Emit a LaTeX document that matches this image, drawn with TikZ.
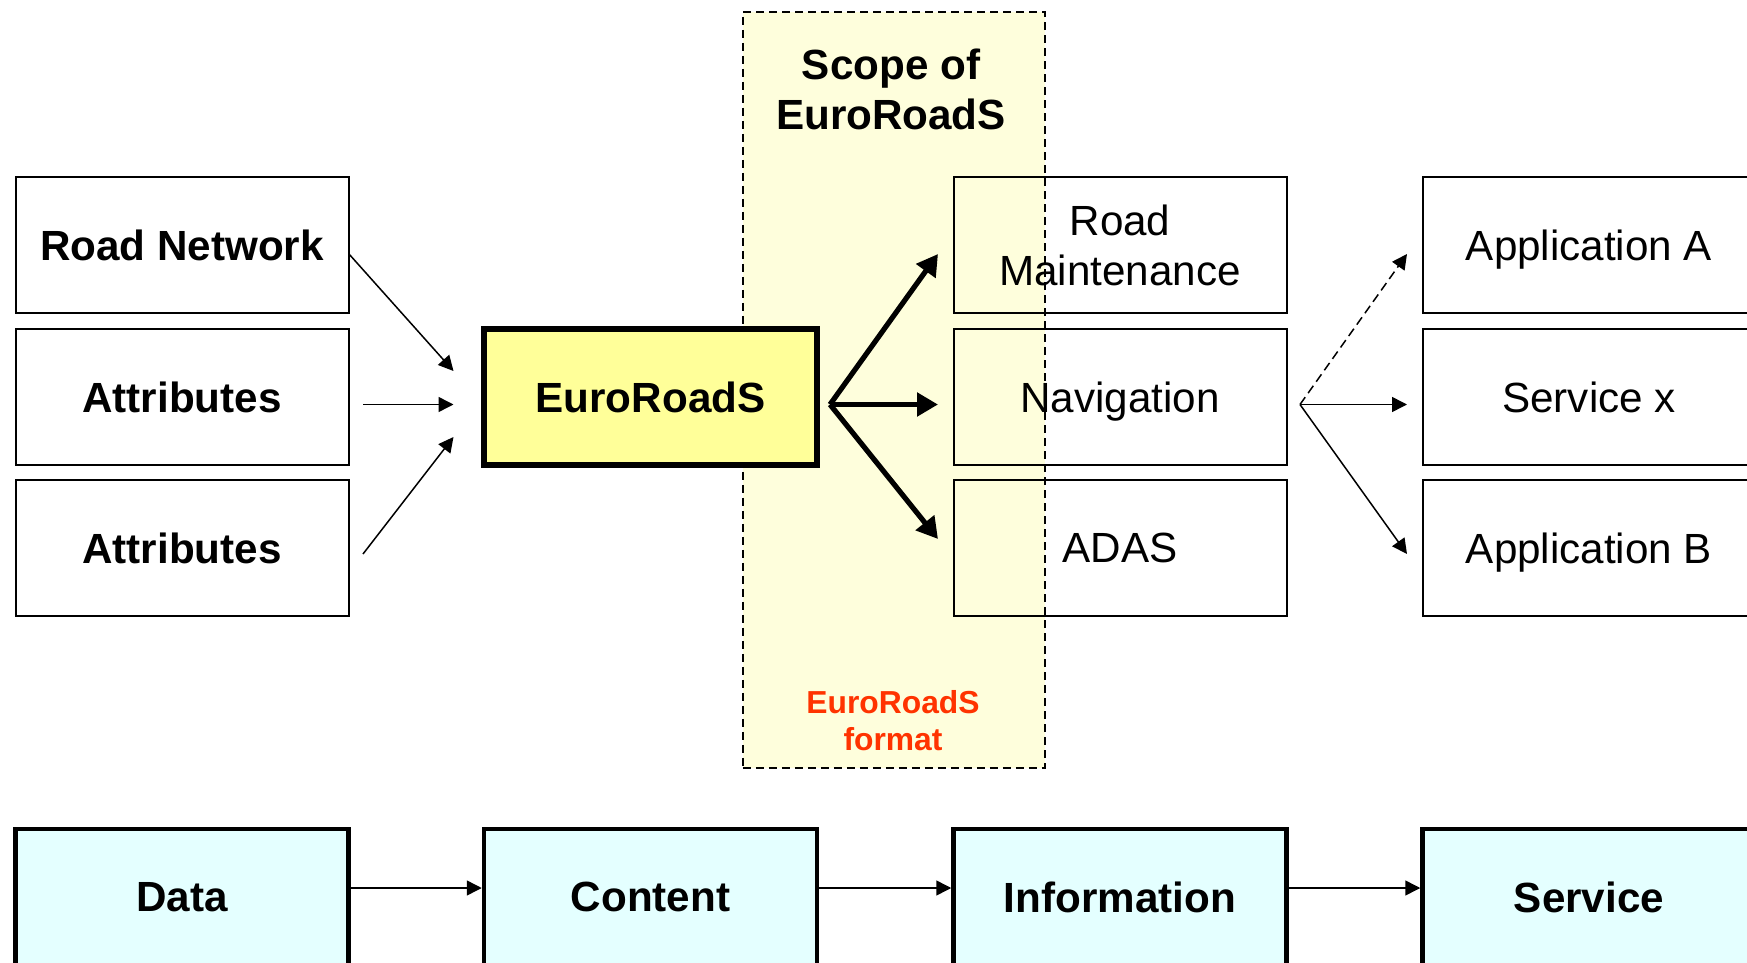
\documentclass[tikz,border=0pt]{standalone}
\usepackage{fontspec}
\setmainfont{Liberation Sans}
\usetikzlibrary{arrows.meta}
\definecolor{scopefill}{HTML}{FEFEDC}
\definecolor{erfill}{HTML}{FFFF99}
\definecolor{cyanfill}{HTML}{E4FFFF}
\definecolor{redtxt}{HTML}{FF3300}
\begin{document}
\begin{tikzpicture}[x=0.5pt,y=-0.5pt,
  box/.style={draw=black,line width=1pt,minimum width=166.5pt,minimum height=68pt,inner sep=0pt,align=center,text depth=0pt,font=\fontsize{21.1}{25}\selectfont},
  boldbox/.style={box,font=\fontsize{21.1}{25}\selectfont\bfseries},
  erbox/.style={boldbox,fill=erfill,line width=3pt},
  stagebox/.style={boldbox,fill=cyanfill,line width=2.25pt},
  thinarrow/.style={line width=0.75pt,-{Triangle[length=7.5pt,width=7.5pt]}},
  thickarrow/.style={line width=2.6pt,-{Triangle[length=10.5pt,width=11.5pt]}},
  scopebox/.style={draw=black,fill=scopefill,line width=0.9pt,dash pattern=on 4pt off 2.5pt}
]
\useasboundingbox (0,0) rectangle (1747,963);
\clip (0,0) rectangle (1747,963);
\fill[white] (0,0) rectangle (1747,963);
% scope
\node[scopebox,minimum width=151pt,minimum height=378pt,inner sep=0pt,anchor=north west] (scope) at (742,11) {};
\node[font=\fontsize{21.1}{25}\selectfont\bfseries,align=center] (scopetxt) at (891,89) {Scope of\\EuroRoadS};
\node[font=\fontsize{15.9}{18.4}\selectfont\bfseries,text=redtxt,align=center] (fmt) at (893,721) {EuroRoadS\\format};
% left column
\node[boldbox,fill=white] (rn) at (182,245) {Road Network};
\node[boldbox,fill=white] (at1) at (182,397) {Attributes};
\node[boldbox,fill=white] (at2) at (182,548) {Attributes};
% EuroRoadS
\node[erbox] (er) at (650.5,397) {EuroRoadS};
% middle column
\node[box] (rm) at (1120,245) {Road\\Maintenance};
\node[box] (nav) at (1120,397) {Navigation};
\node[box] (adas) at (1120,548) {ADAS};
% right column
\node[box,fill=white] (appa) at (1589,245) {Application A};
\node[box,fill=white] (svx) at (1589,397) {Service x};
\node[box,fill=white] (appb) at (1589,548) {Application B};
% bottom row
\node[stagebox] (data) at (182,897) {Data};
\node[stagebox] (content) at (650.5,897) {Content};
\node[stagebox] (info) at (1120,897) {Information};
\node[stagebox] (service) at (1589,897) {Service};
% coordinates
\coordinate (l1s) at (349,254);
\coordinate (l2s) at (363,404.5);
\coordinate (l3s) at (363,554);
\coordinate (l1e) at (453.5,371);
\coordinate (l2e) at (453.5,404.5);
\coordinate (l3e) at (453.5,437);
\coordinate (mo) at (830,404.5);
\coordinate (m1) at (938,254);
\coordinate (m2) at (938,404.5);
\coordinate (m3) at (938,539);
\coordinate (ro) at (1300,404.5);
\coordinate (r1) at (1407,254);
\coordinate (r2) at (1407,404.5);
\coordinate (r3) at (1407,554);
% left arrows
\draw[thinarrow] (l1s) -- (l1e);
\draw[thinarrow] (l2s) -- (l2e);
\draw[thinarrow] (l3s) -- (l3e);
% thick arrows
\draw[thickarrow] (mo) -- (m1);
\draw[thickarrow] (mo) -- (m2);
\draw[thickarrow] (mo) -- (m3);
% right arrows
\draw[thinarrow,dash pattern=on 4.5pt off 2.5pt] (ro) -- (r1);
\draw[thinarrow] (ro) -- (r2);
\draw[thinarrow] (ro) -- (r3);
% bottom arrows
\draw[thinarrow] ([yshift=4.5pt]data.east) -- ([yshift=4.5pt]content.west);
\draw[thinarrow] ([yshift=4.5pt]content.east) -- ([yshift=4.5pt]info.west);
\draw[thinarrow] ([yshift=4.5pt]info.east) -- ([yshift=4.5pt]service.west);
\end{tikzpicture}
\end{document}
